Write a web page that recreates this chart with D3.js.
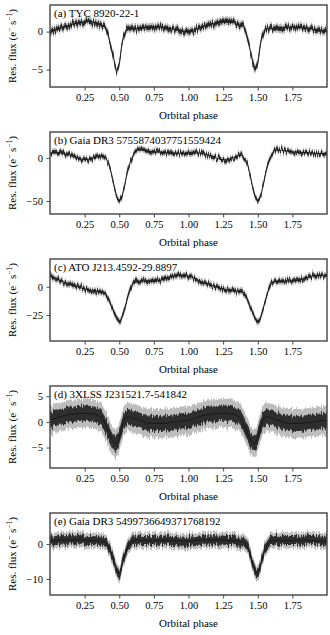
<!DOCTYPE html>
<html>
<head>
<meta charset="utf-8">
<script src="https://cdn.jsdelivr.net/npm/d3@7"></script>
<style>
  body { margin: 0; background: #fff; }
  svg text { font-family: "Liberation Serif", "DejaVu Serif", serif; fill: #000; }
</style>
</head>
<body>
<div id="chart"></div>
<script>
// One folded cycle of orbital phase; the plot shows it twice (0-2)
const phase = [0, 0.05, 0.1, 0.15, 0.2, 0.25, 0.3, 0.35, 0.38, 0.4, 0.42, 0.44, 0.46, 0.48, 0.5,
               0.52, 0.54, 0.56, 0.58, 0.6, 0.62, 0.65, 0.7, 0.75, 0.8, 0.85, 0.9, 0.95, 1.0];

// Residual flux (mean curve) per source, e- s^-1
const fluxA = [0.0, 0.3, 0.6, 0.9, 1.1, 1.3, 1.3, 1.0, 0.8, 0.6, -0.5, -2.0, -3.6, -5.0, -4.2,
               -1.6, -0.4, 0.3, 0.4, 0.4, 0.4, 0.5, 0.5, 0.6, 0.6, 0.5, 0.3, 0.1, 0.0];
const fluxB = [6, 6, 5, 3, 0, -2, -1, 2, 3, 0, -5, -16, -31, -44, -50,
               -44, -31, -16, -5, 3, 8, 9, 8, 7, 6.5, 6, 5.5, 5, 5];
const fluxC = [9, 7, 4, 2, 0, -2, -3.5, -4, -4.5, -6, -10, -16, -22, -28, -31,
               -27, -19, -10, -2, 3, 4.5, 5, 5, 5, 6, 8, 9.5, 10, 9.5];
const fluxD = [0.3, 0.8, 1.2, 1.5, 1.6, 1.7, 1.6, 1.2, 0.5, -0.5, -1.8, -3.0, -4.0, -4.2, -3.0,
               -1.0, 0.5, 1.0, 0.9, 0.7, 0.5, 0.3, -0.2, -0.3, -0.3, -0.2, 0.0, 0.2, 0.3];
const fluxE = [0.8, 1.0, 1.2, 1.2, 1.2, 1.1, 1.0, 0.9, 0.8, 0.5, -0.5, -2.5, -5.0, -7.5, -8.5,
               -6.0, -3.0, -0.8, 0.4, 1.0, 1.1, 1.1, 1.0, 1.0, 1.1, 1.1, 1.0, 0.9, 0.8];

// scatter of the points around the mean (full range, core)
const scatterOuter = [0.6, 4, 3.3, 2.8, 2.3];
const scatterInner = [0.3, 2, 1.6, 1.5, 1.3];

const names = ["(a) TYC 8920-22-1", "(b) Gaia DR3 5755874037751559424", "(c) ATO J213.4592-29.8897",
               "(d) 3XLSS J231521.7-541842", "(e) Gaia DR3 5499736649371768192"];
const yRanges = [[-7.3, 3.5], [-65, 30], [-48, 24.5], [-9, 7], [-14.6, 8.9]];
const yTickVals = [[-5, 0], [-50, 0], [-25, 0], [-5, 0, 5], [-10, 0]];
const xTickVals = [0.25, 0.5, 0.75, 1.0, 1.25, 1.5, 1.75];

const series = [fluxA, fluxB, fluxC, fluxD, fluxE];

const W = 330, H = 635;
const left = 50, right = 327, panelH = 82, step = 127, top0 = 5;

const svg = d3.select("#chart").append("svg")
    .attr("width", W)
    .attr("height", H);

// jitter filter so the scatter band edges look like noisy photometry
const defs = svg.append("defs");
const jit = defs.append("filter").attr("id", "jitter")
    .attr("x", "-5%").attr("y", "-30%").attr("width", "110%").attr("height", "160%");
jit.append("feTurbulence")
    .attr("type", "fractalNoise")
    .attr("baseFrequency", "1.2 0.01")
    .attr("numOctaves", 2)
    .attr("seed", 3)
    .attr("result", "noise");
jit.append("feColorMatrix")
    .attr("in", "noise")
    .attr("type", "matrix")
    .attr("values", "0 0 0 0 0.5  0 1 0 0 0  0 0 0 0 0  0 0 0 0 1")
    .attr("result", "map");
jit.append("feDisplacementMap")
    .attr("in", "SourceGraphic")
    .attr("in2", "map")
    .attr("scale", 9)
    .attr("xChannelSelector", "R")
    .attr("yChannelSelector", "G");

const x = d3.scaleLinear().domain([0, 2]).range([left, right]);

series.forEach((flux, i) => {
    const top = top0 + i * step;
    const y = d3.scaleLinear().domain(yRanges[i]).range([top + panelH, top]);

    // repeat the folded cycle over 0-2
    const pts = [];
    [0, 1].forEach(k => {
        phase.forEach((p, j) => {
            if (k === 1 && j === 0) return;
            pts.push({ p: p + k, f: flux[j] });
        });
    });

    const g = svg.append("g");

    g.append("clipPath").attr("id", "clip" + i)
        .append("rect")
        .attr("x", left).attr("y", top)
        .attr("width", right - left).attr("height", panelH);

    const plot = g.append("g").attr("clip-path", `url(#clip${i})`);

    const band = s => d3.area()
        .x(d => x(d.p))
        .y0(d => y(d.f - s))
        .y1(d => y(d.f + s))
        .curve(d3.curveMonotoneX);

    plot.append("g").attr("filter", "url(#jitter)")
        .append("path").datum(pts)
        .attr("d", band(scatterOuter[i]))
        .attr("fill", "#bdbdbd");

    plot.append("g").attr("filter", "url(#jitter)")
        .append("path").datum(pts)
        .attr("d", band(scatterInner[i]))
        .attr("fill", "#2e2e2e");

    plot.append("path").datum(pts)
        .attr("d", d3.line().x(d => x(d.p)).y(d => y(d.f)).curve(d3.curveMonotoneX))
        .attr("fill", "none")
        .attr("stroke", "#111")
        .attr("stroke-width", 0.8);

    // axes
    const xAxis = g.append("g")
        .attr("transform", `translate(0,${top + panelH})`)
        .call(d3.axisBottom(x).tickValues(xTickVals).tickFormat(d3.format(".2f")).tickSize(3.5).tickPadding(3.5));

    const yAxis = g.append("g")
        .attr("transform", `translate(${left},0)`)
        .call(d3.axisLeft(y).tickValues(yTickVals[i]).tickFormat(d3.format("d")).tickSize(3.5).tickPadding(3.5));

    [xAxis, yAxis].forEach(a => {
        a.select(".domain").remove();
        a.selectAll(".tick line").attr("stroke", "#333").attr("stroke-width", 0.9);
        a.selectAll(".tick text")
            .style("font-family", '"Liberation Serif", serif')
            .style("font-size", "10.5px")
            .attr("fill", "#000");
    });

    // frame
    g.append("rect")
        .attr("x", left).attr("y", top)
        .attr("width", right - left).attr("height", panelH)
        .attr("fill", "none")
        .attr("stroke", "#444")
        .attr("stroke-width", 1.4);

    g.append("text")
        .attr("x", left + 4)
        .attr("y", top + 12)
        .style("font-size", "11px")
        .text(names[i]);

    g.append("text")
        .attr("x", (left + right) / 2)
        .attr("y", top + panelH + 32)
        .attr("text-anchor", "middle")
        .style("font-size", "11px")
        .text("Orbital phase");

    const yl = g.append("text")
        .attr("transform", `translate(16,${top + panelH / 2}) rotate(-90)`)
        .attr("text-anchor", "middle")
        .style("font-size", "11px");
    yl.append("tspan").text("Res. flux (e");
    yl.append("tspan").attr("baseline-shift", "super").style("font-size", "7.5px").text("\u2212");
    yl.append("tspan").text(" s");
    yl.append("tspan").attr("baseline-shift", "super").style("font-size", "7.5px").text("\u22121");
    yl.append("tspan").text(")");
});
</script>
</body>
</html>
